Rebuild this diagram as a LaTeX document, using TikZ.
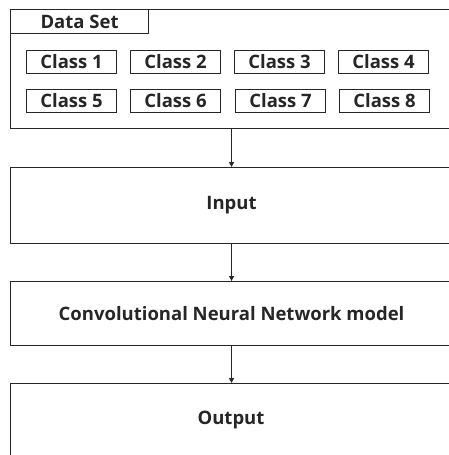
\documentclass[tikz,border=0pt]{standalone}
\usepackage{fontspec}
\setmainfont{Open Sans}
\usetikzlibrary{arrows.meta}
\begin{document}
\begin{tikzpicture}[x=1pt,y=-1pt,
  txt/.style={font=\bfseries\fontsize{18.5}{18.5}\selectfont, text=black!85},
  box/.style={draw=black!85, line width=1.1pt, inner sep=0pt, anchor=north west, txt},
  big/.style={box, minimum width=442pt},
  cls/.style={box, minimum width=90pt, minimum height=23pt},
  arr/.style={draw=black!85, line width=0.9pt, -{Triangle[length=5pt,width=5pt]}}]
\useasboundingbox[fill=white] (0,0) rectangle (449,455);
\clip (0,0) rectangle (449,455);
\node[big, minimum height=119pt] (ds) at (10,9) {};
\node[box, minimum width=138pt, minimum height=24pt] (tab) at (10,9) {Data Set};
\node[cls] (c1) at (26,50) {Class 1};
\node[cls] (c2) at (130,50) {Class 2};
\node[cls] (c3) at (234,50) {Class 3};
\node[cls] (c4) at (338,50) {Class 4};
\node[cls] (c5) at (26,88.5) {Class 5};
\node[cls] (c6) at (130,88.5) {Class 6};
\node[cls] (c7) at (235,88.5) {Class 7};
\node[cls] (c8) at (339,88.5) {Class 8};
\node[big, minimum height=76pt] (in) at (10,167) {Input};
\node[big, minimum height=64pt] (cnn) at (10,281) {Convolutional Neural Network model};
\node[big, minimum height=100pt] (out) at (10,383) {};
\node[txt] (outlbl) at (231,420) {Output};
\draw[arr] (ds.south) -- (in.north);
\draw[arr] (in.south) -- (cnn.north);
\draw[arr] (cnn.south) -- (out.north);
\end{tikzpicture}
\end{document}
